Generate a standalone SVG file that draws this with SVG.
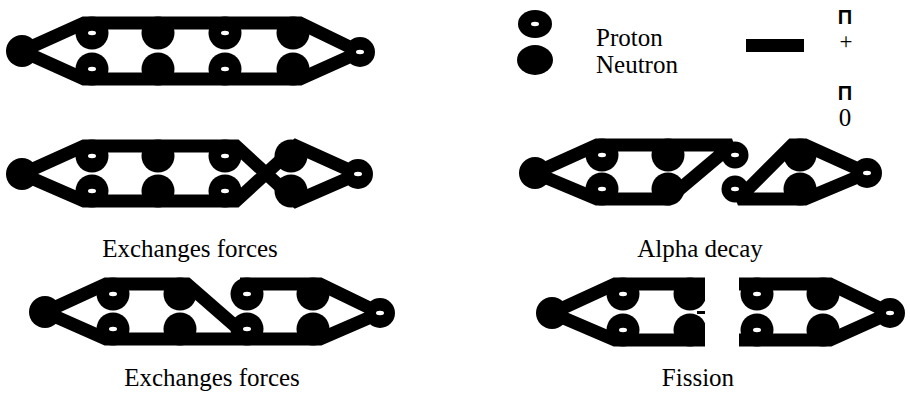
<svg xmlns="http://www.w3.org/2000/svg" xmlns:xlink="http://www.w3.org/1999/xlink" width="910" height="403" viewBox="0 0 910 403">
  <style>
    .bond { fill: none; stroke: #000; stroke-width: 13; stroke-linejoin: miter; stroke-miterlimit: 2; stroke-linecap: butt; }
    .lbl { font-family: "Liberation Serif", "Times New Roman", serif; font-size: 25px; fill: #000; }
    .pi { font-family: "Liberation Sans", Arial, sans-serif; font-weight: bold; font-size: 20px; fill: #000; }
  </style>
  <defs>
    <!-- nucleons: neutron = solid disc, proton = disc with a white spot -->
    <g id="n"><circle r="16.5" fill="#000"/></g>
    <g id="p"><circle r="16.5" fill="#000"/><ellipse rx="4" ry="2.2" fill="#fff"/></g>
    <g id="ne"><circle r="16" fill="#000"/></g>
    <g id="pe"><circle r="15" fill="#000"/><ellipse rx="4" ry="2.2" fill="#fff"/></g>
    <g id="ps"><circle r="13.5" fill="#000"/><ellipse rx="4" ry="2.2" fill="#fff"/></g>
    <clipPath id="cutL"><rect x="0" y="260" width="705" height="110"/></clipPath>
    <clipPath id="cutR"><rect x="739" y="260" width="171" height="110"/></clipPath>
  </defs>

  <!-- pion exchange bonds -->
  <g id="connectors">
    <path class="bond" d="M22,51 L84,23 L300,23 L360,52 L300,79 L84,79 Z"/>
    <path class="bond" d="M22,174 L84,146 L236,146 L296,201 L358,174 L296,146 L236,201 L84,201 Z"/>
    <path class="bond" d="M535,173 L597,145 L732,145 L668,199 L597,199 Z"/>
    <path class="bond" d="M738,199 L805,199 L867,173 L805,145 L792,145 Z"/>
    <path class="bond" d="M45,312 L106,284 L187,284 L250,339 L106,339 Z"/>
    <path class="bond" d="M240,284 L320,284 L380,313 L320,339 L250,339"/>
    <path class="bond" d="M705,284 L615,284 L552,313 L615,340 L705,340"/>
    <path class="bond" d="M739,284 L830,284 L890,313 L830,340 L739,340"/>
  </g>

  <!-- nucleus, exchanging forces -->
  <g id="nucleus-top">
    <use href="#ne" x="22" y="51"/>
    <use href="#p" x="92" y="33"/><use href="#n" x="158" y="33"/><use href="#p" x="225" y="33"/><use href="#n" x="293" y="33"/>
    <use href="#p" x="92" y="69"/><use href="#n" x="158" y="69"/><use href="#p" x="225" y="69"/><use href="#n" x="293" y="69"/>
    <use href="#pe" x="360" y="52"/>
  </g>

  <g id="nucleus-cross">
    <use href="#ne" x="22" y="174"/>
    <use href="#p" x="92" y="156"/><use href="#n" x="158" y="156"/><use href="#p" x="225" y="156"/><use href="#n" x="291" y="156"/>
    <use href="#p" x="92" y="191"/><use href="#n" x="158" y="191"/><use href="#p" x="225" y="191"/><use href="#n" x="291" y="191"/>
    <use href="#pe" x="358" y="174"/>
  </g>

  <g id="alpha-daughter">
    <use href="#ne" x="535" y="173"/>
    <use href="#p" x="602" y="155"/><use href="#n" x="668" y="155"/><use href="#ps" x="735" y="155"/>
    <use href="#p" x="602" y="189"/><use href="#n" x="668" y="189"/>
  </g>
  <g id="alpha-particle">
    <use href="#ps" x="735" y="189"/>
    <use href="#n" x="800" y="155"/><use href="#n" x="800" y="189"/>
    <use href="#pe" x="867" y="173"/>
  </g>

  <g id="nucleus-pair">
    <use href="#ne" x="45" y="312"/>
    <use href="#p" x="113" y="294"/><use href="#n" x="180" y="294"/><use href="#p" x="247" y="294"/><use href="#n" x="313" y="294"/>
    <use href="#p" x="113" y="329"/><use href="#n" x="180" y="329"/><use href="#p" x="247" y="329"/><use href="#n" x="313" y="329"/>
    <use href="#pe" x="380" y="313"/>
  </g>

  <g id="fission-left">
    <use href="#ne" x="552" y="313"/>
    <use href="#p" x="623" y="294"/><use href="#p" x="623" y="330"/>
    <g clip-path="url(#cutL)"><use href="#n" x="690" y="294"/><use href="#n" x="690" y="330"/></g>
    <rect x="697" y="311" width="8" height="3" fill="#000"/>
  </g>
  <g id="fission-right">
    <g clip-path="url(#cutR)"><use href="#p" x="757" y="294"/><use href="#p" x="757" y="330"/></g>
    <use href="#n" x="823" y="294"/><use href="#n" x="823" y="330"/>
    <use href="#pe" x="890" y="313"/>
  </g>

  <!-- key -->
  <g id="key-proton">
    <ellipse cx="535" cy="24" rx="17" ry="14" fill="#000"/>
    <ellipse cx="535" cy="24" rx="4" ry="2.2" fill="#fff"/>
    <text class="lbl" x="596" y="46">Proton</text>
  </g>
  <g id="key-neutron">
    <ellipse cx="535" cy="60" rx="18" ry="15" fill="#000"/>
    <text class="lbl" x="596" y="73">Neutron</text>
  </g>
  <g id="key-pion">
    <rect x="746" y="39" width="58" height="13" fill="#000"/>
    <text class="pi" x="845" y="24" text-anchor="middle">Π</text>
    <text class="lbl" x="846" y="49" text-anchor="middle" style="font-size:23px">+</text>
    <text class="pi" x="845" y="100" text-anchor="middle">Π</text>
    <text class="lbl" x="845" y="126" text-anchor="middle">0</text>
  </g>

  <!-- captions -->
  <g id="captions">
    <text class="lbl" x="190" y="257" text-anchor="middle">Exchanges forces</text>
    <text class="lbl" x="700" y="257" text-anchor="middle">Alpha decay</text>
    <text class="lbl" x="212" y="386" text-anchor="middle">Exchanges forces</text>
    <text class="lbl" x="698" y="386" text-anchor="middle">Fission</text>
  </g>
</svg>
